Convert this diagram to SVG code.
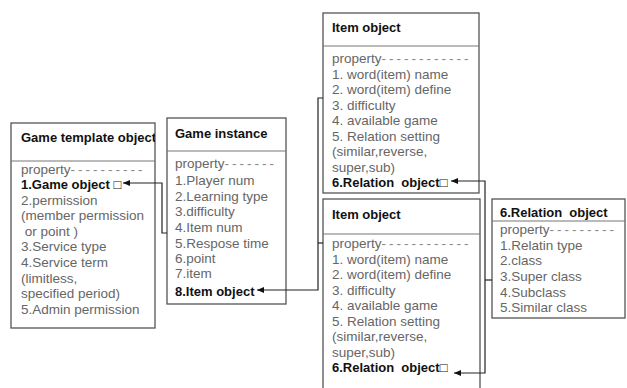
<svg xmlns="http://www.w3.org/2000/svg" width="627" height="388" viewBox="0 0 627 388">
<style>
.box{fill:#fff;stroke:#555;stroke-width:1.3}
.sep{stroke:#777;stroke-width:1.2}
.hd{font-family:"Liberation Sans",Arial,sans-serif;font-size:13px;font-weight:bold;fill:#111}
.tx{font-family:"Liberation Sans",Arial,sans-serif;font-size:13.5px;fill:#666}
.b{font-weight:bold;fill:#111;font-size:13px}
.d{letter-spacing:3px;fill:#888}
.con{fill:none;stroke:#222;stroke-width:1.2}
</style>
<defs>
<marker id="ah" markerWidth="8" markerHeight="8" refX="7" refY="4" orient="auto" markerUnits="userSpaceOnUse">
<path d="M0,1 L7,4 L0,7 z" fill="#111"/>
</marker>
<clipPath id="tplclip"><rect x="11" y="123" width="144" height="205"/></clipPath>
</defs>
<rect width="627" height="388" fill="#fff"/>
<g id="game-template">
<rect class="box" x="11" y="123" width="144" height="205"/>
<line class="sep" x1="11" y1="161" x2="155" y2="161"/>
<text class="hd" x="21" y="142" clip-path="url(#tplclip)">Game template object</text>
<text class="tx" x="21" y="174">property<tspan class="d">----------</tspan></text>
<text class="tx b" x="21" y="189">1.Game object □</text>
<text class="tx" x="21" y="205">2.permission</text>
<text class="tx" x="21" y="220">(member permission</text>
<text class="tx" x="21" y="236" xml:space="preserve"> or point )</text>
<text class="tx" x="21" y="251">3.Service type</text>
<text class="tx" x="21" y="267">4.Service term</text>
<text class="tx" x="21" y="283">(limitless,</text>
<text class="tx" x="21" y="298">specified period)</text>
<text class="tx" x="21" y="314">5.Admin permission</text>
</g>
<g id="game-instance">
<rect class="box" x="167" y="118" width="119" height="186"/>
<line class="sep" x1="167" y1="151" x2="286" y2="151"/>
<text class="hd" x="175" y="138">Game instance</text>
<text class="tx" x="175" y="168">property<tspan class="d">-------</tspan></text>
<text class="tx" x="175" y="185">1.Player num</text>
<text class="tx" x="175" y="201">2.Learning type</text>
<text class="tx" x="175" y="216">3.difficulty</text>
<text class="tx" x="175" y="232">4.Item num</text>
<text class="tx" x="175" y="248">5.Respose time</text>
<text class="tx" x="175" y="263">6.point</text>
<text class="tx" x="175" y="278">7.item</text>
<text class="tx b" x="175" y="296">8.Item object</text>
</g>
<g id="item-object-1">
<rect class="box" x="323" y="13" width="156" height="180"/>
<line class="sep" x1="323" y1="46" x2="479" y2="46"/>
<text class="hd" x="332" y="32">Item object</text>
<text class="tx" x="332" y="63">property<tspan class="d">------------</tspan></text>
<text class="tx" x="332" y="79">1. word(item) name</text>
<text class="tx" x="332" y="94">2. word(item) define</text>
<text class="tx" x="332" y="110">3. difficulty</text>
<text class="tx" x="332" y="125">4. available game</text>
<text class="tx" x="332" y="141">5. Relation setting</text>
<text class="tx" x="332" y="156">(similar,reverse,</text>
<text class="tx" x="332" y="172">super,sub)</text>
<text class="tx b" x="332" y="187" xml:space="preserve">6.Relation  object□</text>
</g>
<g id="item-object-2">
<rect class="box" x="323" y="199" width="157" height="200"/>
<line class="sep" x1="323" y1="234" x2="480" y2="234"/>
<text class="hd" x="332" y="219">Item object</text>
<text class="tx" x="332" y="248">property<tspan class="d">------------</tspan></text>
<text class="tx" x="332" y="264">1. word(item) name</text>
<text class="tx" x="332" y="279">2. word(item) define</text>
<text class="tx" x="332" y="295">3. difficulty</text>
<text class="tx" x="332" y="310">4. available game</text>
<text class="tx" x="332" y="326">5. Relation setting</text>
<text class="tx" x="332" y="341">(similar,reverse,</text>
<text class="tx" x="332" y="357">super,sub)</text>
<text class="tx b" x="332" y="372" xml:space="preserve">6.Relation  object□</text>
</g>
<g id="relation-object">
<rect class="box" x="492" y="199" width="133" height="119"/>
<line class="sep" x1="492" y1="221" x2="625" y2="221"/>
<text class="hd" x="500" y="217" xml:space="preserve">6.Relation  object</text>
<text class="tx" x="500" y="234">property<tspan class="d">---------</tspan></text>
<text class="tx" x="500" y="250">1.Relatin type</text>
<text class="tx" x="500" y="265">2.class</text>
<text class="tx" x="500" y="281">3.Super class</text>
<text class="tx" x="500" y="297">4.Subclass</text>
<text class="tx" x="500" y="312">5.Similar class</text>
</g>
<g id="connectors">
<polyline class="con" points="167,233 162,233 162,183 123,183" marker-end="url(#ah)"/>
<polyline class="con" points="323,98 318,98 318,290 257,290" marker-end="url(#ah)"/>
<line class="con" x1="318" y1="243" x2="323" y2="243"/>
<polyline class="con" points="485,281 485,181 451,181" marker-end="url(#ah)"/>
<polyline class="con" points="485,281 485,373 454,373" marker-end="url(#ah)"/>
<line class="con" x1="485" y1="280" x2="492" y2="280"/>
</g>
</svg>
